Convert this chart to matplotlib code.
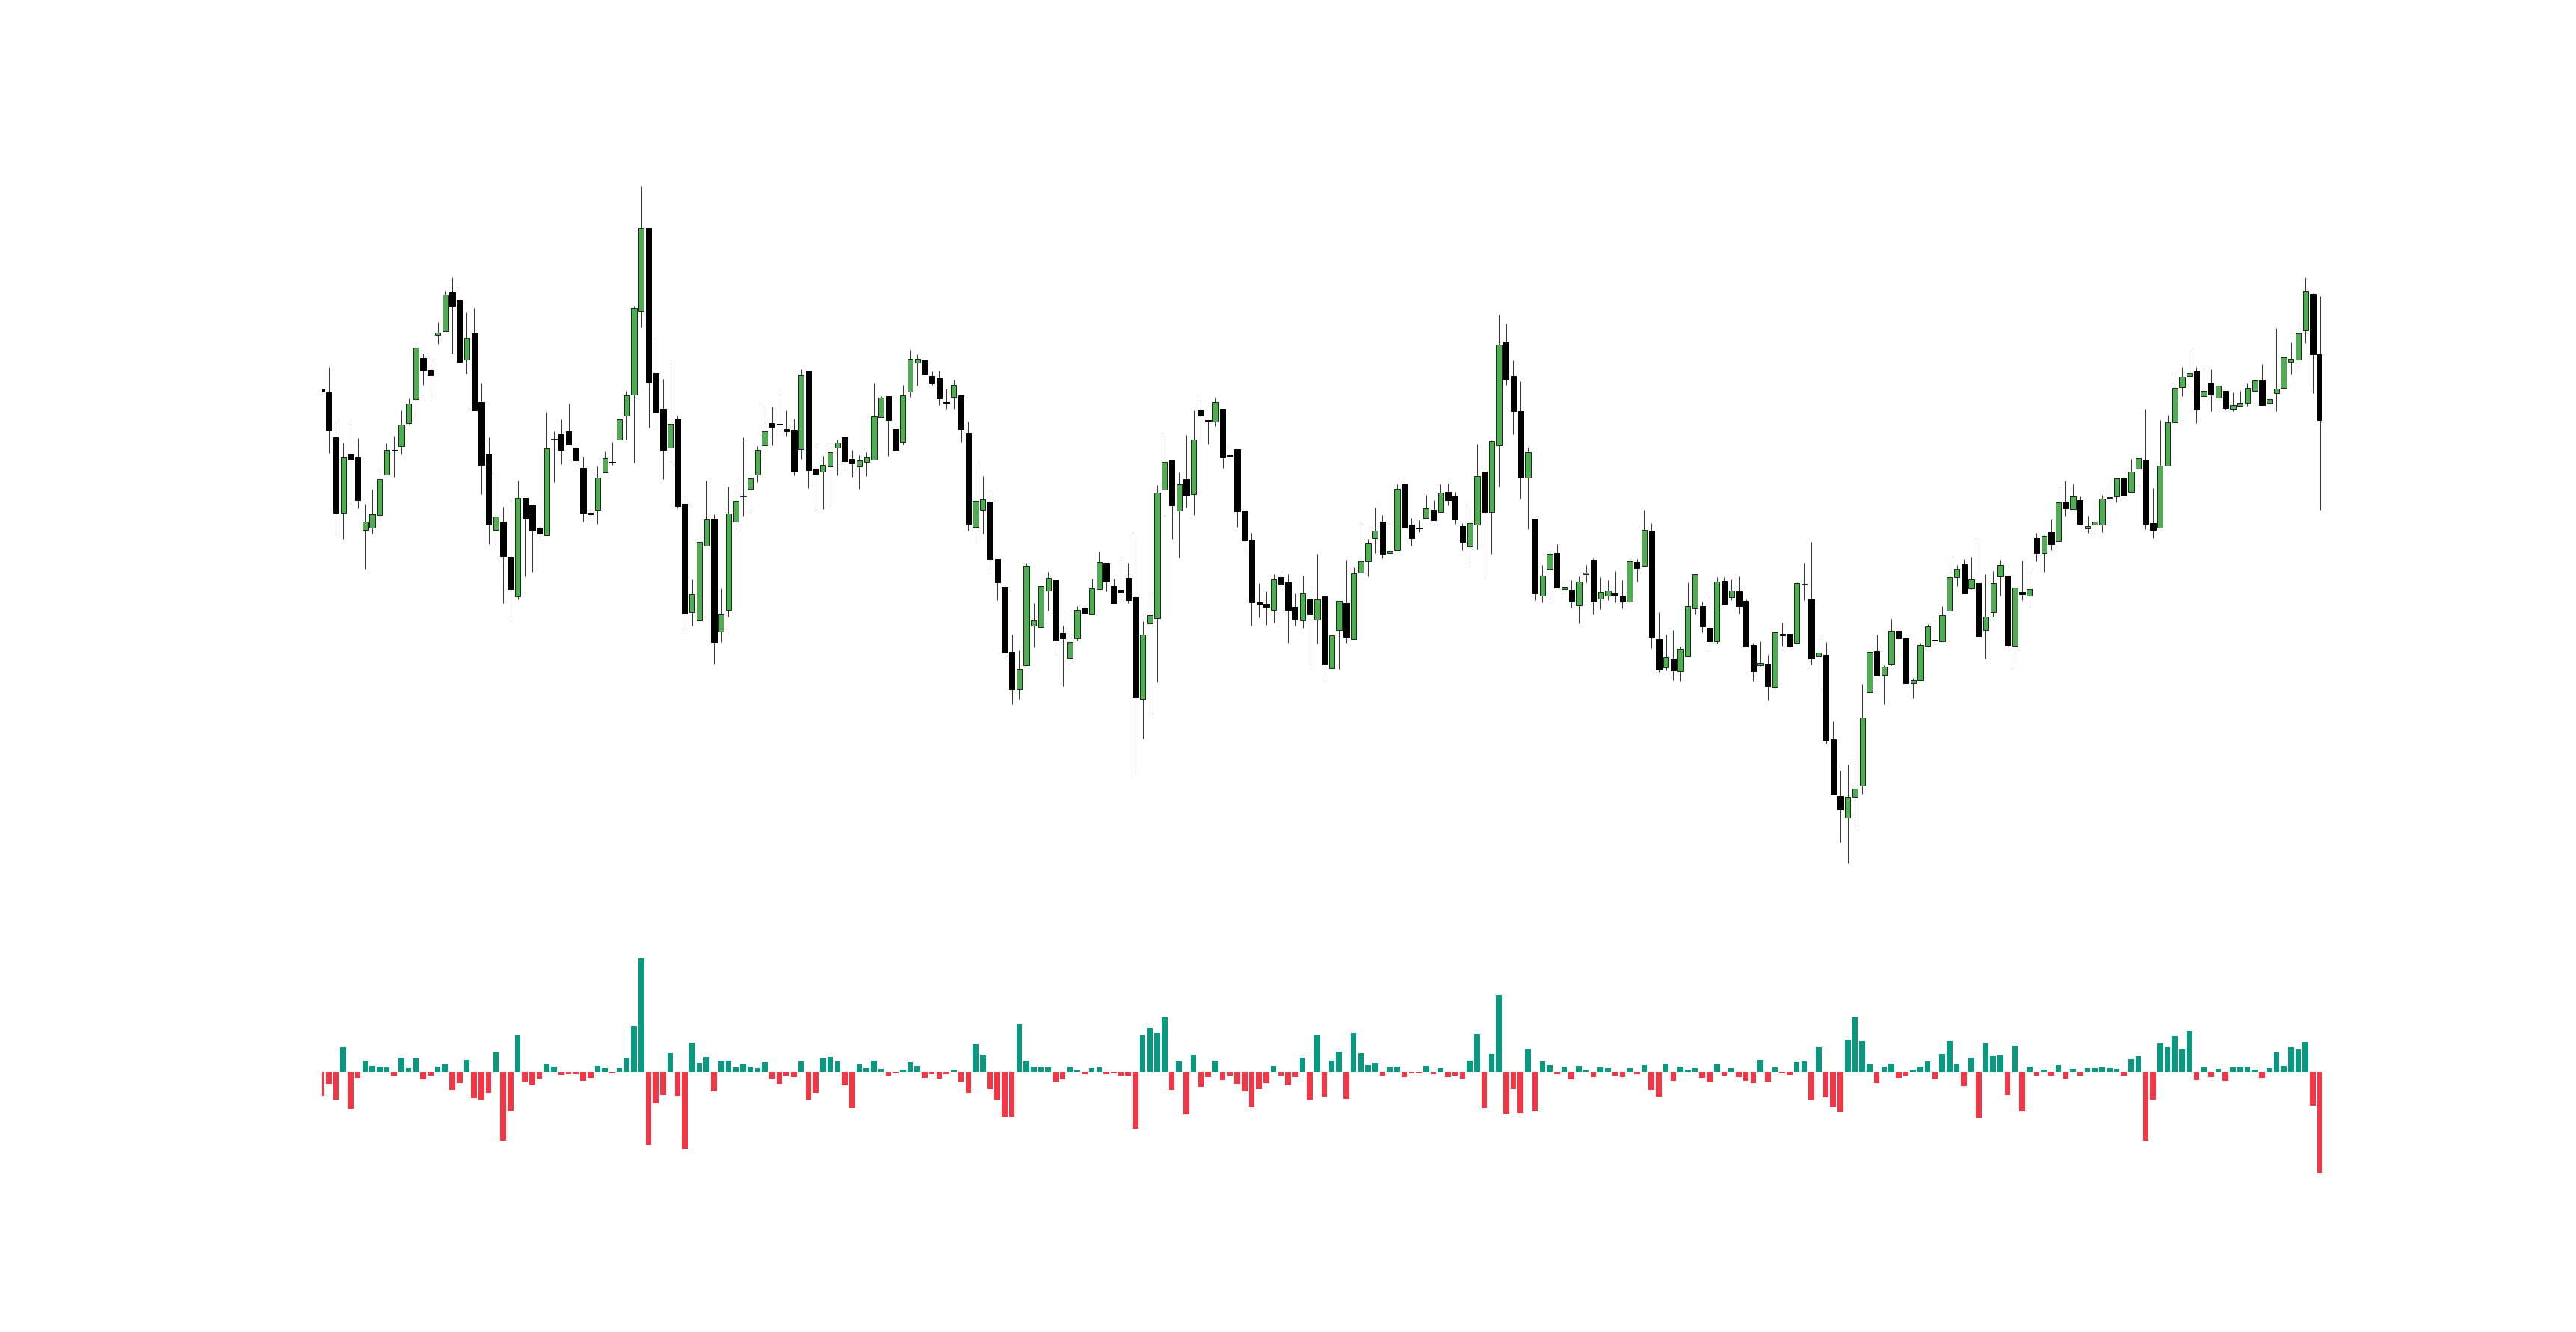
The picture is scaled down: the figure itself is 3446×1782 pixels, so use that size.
import matplotlib
matplotlib.use("Agg")
import matplotlib.pyplot as plt
import numpy as np

# OHLC prices (arbitrary units, no axis shown)
opens = [
    78.0, 77.5, 71.5, 61.4, 69.2, 68.8, 59.1, 59.4, 61.1, 66.5,
    69.8, 70.3, 73.4, 76.6, 82.1, 80.5, 85.2, 85.7, 90.9, 89.8,
    81.9, 85.4, 76.2, 69.2, 59.1, 60.2, 55.5, 50.2, 63.4, 62.4,
    59.4, 58.4, 71.2, 71.9, 72.3, 70.1, 67.4, 61.4, 61.8, 66.8,
    68.2, 71.2, 74.4, 77.2, 88.4, 99.5, 80.1, 75.3, 70.1, 74.0,
    62.6, 48.1, 47.0, 57.0, 60.6, 45.5, 48.4, 60.2, 63.6, 64.6,
    66.5, 70.4, 73.4, 73.3, 72.6, 72.5, 69.9, 80.4, 67.3, 66.9,
    67.6, 70.1, 71.5, 68.6, 67.6, 68.2, 68.5, 74.2, 77.0, 72.6,
    70.9, 77.6, 81.5, 81.8, 79.7, 79.4, 76.2, 76.9, 77.1, 72.1,
    59.5, 61.8, 62.9, 55.2, 51.5, 42.8, 37.8, 41.0, 46.3, 46.1,
    51.0, 52.4, 45.3, 42.0, 44.6, 48.7, 47.8, 51.2, 54.7, 51.6,
    51.1, 52.7, 50.1, 36.5, 46.6, 47.3, 64.5, 68.4, 61.7, 65.9,
    63.9, 75.2, 73.8, 73.6, 75.3, 69.1, 69.9, 61.7, 57.8, 49.4,
    49.2, 48.4, 52.8, 52.1, 48.8, 47.0, 49.8, 47.1, 50.2, 40.6,
    45.7, 49.3, 44.5, 53.4, 54.9, 58.0, 60.2, 56.0, 56.4, 65.2,
    59.8, 59.4, 60.7, 61.8, 61.5, 64.2, 63.6, 59.6, 56.9, 59.8,
    66.9, 61.5, 70.4, 84.3, 79.7, 75.0, 66.1, 60.6, 50.3, 53.9,
    56.0, 51.2, 51.1, 49.0, 53.2, 55.1, 49.9, 50.3, 50.7, 50.3,
    49.5, 54.8, 54.3, 59.0, 44.5, 40.7, 41.9, 40.2, 42.2, 48.6,
    48.9, 46.0, 44.2, 52.3, 50.1, 50.9, 49.6, 43.7, 41.0, 41.2,
    38.1, 45.2, 45.2, 44.0, 51.8, 49.9, 42.2, 42.4, 31.1, 23.5,
    20.6, 23.4, 24.9, 37.4, 42.9, 39.7, 41.2, 45.6, 44.6, 38.6,
    39.0, 43.6, 44.4, 44.2, 48.3, 52.8, 54.5, 51.3, 52.0, 45.7,
    48.1, 52.9, 53.0, 43.6, 50.8, 50.3, 58.0, 56.0, 58.8, 57.6,
    62.9, 61.9, 63.1, 59.3, 59.8, 59.8, 63.4, 63.6, 66.0, 64.2,
    67.3, 68.4, 60.0, 59.4, 67.7, 73.5, 78.2, 79.7, 80.4, 77.0,
    78.8, 76.8, 77.7, 75.3, 75.7, 76.1, 77.7, 79.1, 76.1, 77.4,
    78.1, 81.6, 81.9, 85.8, 90.7, 82.6,
]
highs = [
    78.0, 80.9, 73.9, 70.8, 73.3, 71.4, 62.6, 64.5, 67.6, 70.7,
    71.7, 75.1, 76.7, 84.0, 82.7, 81.5, 86.9, 91.1, 92.9, 91.2,
    88.2, 88.8, 78.7, 71.5, 66.3, 62.2, 63.5, 65.7, 63.4, 62.4,
    62.3, 74.9, 72.3, 73.9, 76.0, 70.5, 68.9, 67.0, 67.6, 69.6,
    70.9, 73.9, 77.7, 89.0, 105.1, 99.5, 84.9, 79.3, 81.5, 74.4,
    62.9, 52.5, 58.2, 65.7, 61.2, 51.3, 64.9, 65.4, 71.5, 66.6,
    70.3, 75.7, 75.6, 77.3, 75.1, 74.0, 80.6, 80.4, 70.4, 69.0,
    70.8, 71.2, 72.1, 69.8, 69.1, 69.5, 78.7, 77.0, 77.0, 72.6,
    78.5, 83.2, 82.6, 82.3, 80.3, 80.4, 78.0, 79.2, 77.1, 73.6,
    67.7, 66.3, 63.7, 55.2, 51.7, 45.1, 43.0, 54.7, 49.3, 51.6,
    53.5, 52.4, 46.3, 45.0, 48.9, 49.2, 52.6, 56.2, 54.7, 52.6,
    55.2, 54.7, 58.3, 46.9, 50.6, 65.1, 71.7, 68.4, 66.8, 71.8,
    75.1, 76.9, 73.8, 76.8, 75.3, 70.6, 69.9, 61.7, 58.7, 52.0,
    50.9, 53.2, 53.9, 53.2, 50.6, 53.0, 50.9, 55.9, 50.4, 45.0,
    49.6, 55.1, 54.1, 60.1, 57.9, 62.1, 61.1, 60.1, 65.2, 65.6,
    60.7, 60.4, 63.8, 63.1, 65.2, 65.3, 64.2, 60.0, 62.1, 70.6,
    66.9, 71.1, 87.9, 86.7, 81.8, 79.0, 70.1, 60.6, 54.4, 56.3,
    57.2, 52.2, 52.4, 52.9, 54.4, 55.3, 52.8, 52.4, 53.6, 52.4,
    55.2, 55.2, 61.8, 60.0, 48.1, 45.1, 45.7, 43.5, 52.1, 53.2,
    49.5, 50.1, 52.8, 52.8, 52.5, 52.9, 49.8, 44.0, 44.2, 42.4,
    45.4, 46.7, 45.2, 52.1, 54.7, 57.5, 44.5, 44.1, 33.5, 26.9,
    27.7, 28.6, 38.5, 43.1, 45.1, 41.0, 47.2, 45.9, 44.6, 39.3,
    44.0, 46.5, 47.1, 48.9, 55.1, 54.4, 55.2, 55.5, 58.0, 53.2,
    53.6, 55.1, 53.0, 51.4, 55.0, 54.0, 58.7, 58.4, 60.5, 64.9,
    65.7, 65.2, 63.6, 61.0, 62.6, 63.8, 65.0, 66.0, 66.4, 68.6,
    68.7, 75.3, 64.7, 73.8, 74.5, 80.2, 80.9, 83.5, 80.9, 81.1,
    80.6, 78.4, 77.7, 77.5, 77.7, 78.7, 79.1, 81.3, 76.9, 86.1,
    82.7, 84.2, 86.1, 92.9, 90.8, 90.4,
]
lows = [
    77.6, 69.4, 58.3, 57.9, 62.5, 62.0, 53.9, 58.6, 60.2, 66.5,
    66.2, 69.2, 73.3, 74.1, 78.5, 76.9, 84.0, 85.7, 82.7, 81.6,
    80.0, 75.1, 63.9, 57.2, 57.2, 49.3, 47.6, 49.8, 52.9, 53.5,
    57.4, 58.4, 65.5, 67.9, 70.5, 67.4, 60.2, 60.4, 59.9, 66.8,
    67.8, 71.2, 71.2, 68.1, 86.2, 72.8, 72.5, 65.9, 67.8, 62.0,
    45.9, 46.3, 47.0, 57.0, 41.2, 44.1, 47.5, 59.2, 61.0, 61.7,
    65.5, 69.0, 70.4, 72.2, 71.7, 66.4, 68.6, 64.7, 61.4, 61.9,
    62.2, 66.4, 67.1, 66.2, 64.6, 66.3, 68.5, 74.2, 69.0, 69.4,
    70.5, 76.9, 78.4, 79.9, 78.5, 75.8, 75.3, 75.3, 70.9, 59.0,
    57.9, 58.6, 53.9, 49.7, 42.0, 35.8, 36.5, 41.0, 43.4, 46.1,
    48.3, 42.3, 38.2, 41.2, 44.3, 46.6, 47.8, 51.2, 50.9, 49.3,
    49.7, 49.3, 26.4, 31.2, 34.2, 38.8, 60.6, 57.9, 55.4, 62.1,
    61.1, 71.1, 70.6, 73.0, 67.4, 68.7, 59.5, 56.3, 46.3, 47.4,
    46.4, 46.7, 51.6, 44.0, 46.3, 46.0, 41.2, 43.9, 39.6, 40.6,
    40.5, 44.0, 44.5, 53.4, 52.9, 56.0, 55.3, 56.0, 56.4, 59.4,
    57.0, 58.8, 60.7, 60.4, 61.5, 62.4, 59.9, 56.4, 54.7, 56.5,
    52.5, 55.9, 64.9, 78.5, 71.9, 63.3, 59.2, 49.7, 49.4, 49.7,
    51.4, 50.2, 48.7, 46.6, 52.1, 47.8, 48.5, 49.7, 49.4, 48.6,
    49.4, 52.2, 54.3, 43.3, 40.1, 40.3, 39.0, 38.9, 42.2, 47.8,
    45.4, 42.9, 43.9, 49.1, 49.7, 47.9, 43.5, 38.9, 40.9, 36.3,
    37.7, 43.6, 42.9, 44.0, 49.7, 41.1, 37.9, 30.5, 23.7, 17.3,
    14.5, 19.2, 23.8, 37.3, 39.6, 35.8, 41.0, 42.8, 38.6, 36.6,
    39.0, 43.5, 44.1, 44.2, 48.3, 51.6, 50.6, 51.2, 44.9, 41.9,
    47.5, 50.3, 43.6, 41.0, 49.7, 48.7, 54.9, 53.5, 56.4, 57.6,
    61.0, 61.9, 59.9, 58.7, 58.5, 58.8, 63.3, 62.8, 63.0, 64.2,
    64.9, 59.2, 58.0, 59.4, 67.7, 73.5, 77.0, 77.9, 73.4, 77.0,
    75.0, 75.3, 75.2, 75.0, 75.7, 75.7, 77.7, 75.8, 75.4, 75.0,
    77.7, 79.9, 80.6, 84.1, 77.4, 61.8,
]
closes = [
    77.6, 72.5, 61.4, 68.8, 68.6, 63.1, 60.2, 61.2, 65.9, 69.8,
    69.7, 73.2, 76.0, 83.5, 80.5, 79.8, 85.5, 90.6, 89.0, 81.6,
    84.8, 75.1, 67.8, 59.8, 60.9, 55.6, 51.2, 63.4, 60.6, 59.0,
    58.6, 70.0, 71.3, 69.8, 70.5, 68.4, 61.4, 61.2, 66.1, 68.7,
    68.1, 73.9, 77.1, 88.8, 99.5, 78.8, 74.9, 69.8, 73.3, 62.3,
    47.9, 50.5, 57.5, 60.5, 44.1, 47.8, 61.3, 63.0, 63.7, 66.0,
    69.8, 72.3, 72.9, 73.2, 72.3, 66.9, 79.8, 67.1, 66.6, 67.8,
    69.5, 70.8, 68.3, 68.0, 68.4, 68.8, 74.3, 76.8, 73.8, 69.8,
    77.1, 82.0, 82.0, 79.9, 78.7, 76.7, 76.1, 78.5, 72.6, 59.9,
    63.0, 63.2, 55.2, 52.1, 42.7, 37.8, 40.5, 54.3, 47.0, 51.6,
    52.7, 44.4, 44.6, 44.1, 48.4, 48.0, 51.3, 54.8, 52.2, 49.3,
    50.8, 49.7, 36.7, 45.1, 47.7, 64.1, 68.2, 62.4, 65.2, 63.7,
    71.2, 74.4, 73.7, 76.2, 68.8, 69.0, 61.6, 57.7, 49.4, 49.2,
    48.8, 52.5, 51.9, 48.4, 47.2, 50.6, 47.8, 49.8, 41.2, 45.0,
    49.6, 44.8, 53.3, 54.9, 57.3, 59.0, 55.9, 56.3, 64.6, 59.4,
    58.0, 59.3, 62.0, 60.4, 64.1, 63.1, 60.5, 57.5, 60.0, 66.3,
    61.5, 71.0, 83.9, 79.3, 75.0, 66.1, 69.5, 50.6, 53.0, 55.9,
    51.4, 51.5, 49.5, 52.2, 53.4, 49.5, 50.8, 51.0, 50.3, 49.5,
    54.9, 54.0, 59.1, 44.8, 40.4, 42.1, 40.3, 43.2, 48.9, 53.2,
    46.2, 44.2, 52.2, 49.2, 51.0, 48.9, 43.5, 40.2, 41.3, 38.2,
    45.4, 45.0, 43.5, 52.0, 51.9, 41.9, 42.7, 30.9, 23.7, 21.7,
    23.4, 24.5, 34.0, 42.8, 39.6, 40.8, 45.6, 44.6, 38.6, 39.0,
    43.7, 46.2, 44.3, 47.7, 52.8, 53.9, 50.6, 52.5, 44.9, 47.5,
    52.0, 54.4, 43.7, 51.4, 50.5, 51.2, 56.0, 58.3, 57.2, 62.8,
    62.0, 63.6, 59.9, 59.6, 60.2, 63.3, 63.5, 66.0, 63.7, 66.9,
    68.7, 59.9, 59.1, 67.7, 73.5, 78.1, 79.6, 80.1, 75.2, 77.7,
    77.2, 78.4, 75.4, 75.8, 76.1, 78.1, 79.1, 75.8, 76.6, 78.0,
    82.2, 82.0, 85.4, 91.1, 82.6, 73.8,
]

# signed bar values of the lower panel
deltas = [
    -31.7, -15.7, -37.3, 33.0, -49.0, -7.3, 15.0, 8.7, 7.7, 6.0,
    -5.7, 19.3, 5.0, 18.3, -9.3, -5.0, 7.7, 10.3, -23.7, -14.7,
    16.7, -34.7, -38.0, -27.3, 26.3, -91.3, -51.7, 50.0, -14.0, -16.3,
    -8.3, 10.3, 7.0, -4.0, -3.0, -2.3, -11.3, -7.3, 8.0, 5.0,
    -1.3, 5.0, 18.7, 61.7, 152.7, -97.7, -41.7, -31.0, 25.7, -32.0,
    -102.3, 39.3, 12.3, 20.3, -25.7, 15.7, 15.7, 6.7, 10.3, 7.0,
    5.0, 13.3, -8.3, -15.7, -5.0, -6.7, 14.0, -38.0, -28.0, 18.7,
    20.3, 14.0, -17.7, -48.0, 10.3, 5.0, 15.0, 4.0, -5.7, -1.3,
    2.3, 13.3, 8.7, -7.3, -2.3, -8.3, -3.0, 2.3, -14.0, -27.3,
    37.3, 23.0, -23.0, -38.0, -60.0, -60.0, 64.3, 15.7, 7.0, 6.0,
    6.0, -12.3, -9.3, 7.0, 2.3, -3.0, 5.0, 6.0, -3.0, -2.0,
    -5.7, -5.0, -75.7, 50.7, 59.0, 52.3, 73.3, -24.0, 14.0, -57.0,
    23.0, -20.0, -6.7, 15.0, -10.3, -5.0, -15.7, -25.7, -46.3, -23.0,
    -14.7, 8.7, -5.0, -17.7, -6.7, 19.3, -36.7, 50.0, -33.0, 15.7,
    27.7, -35.7, 52.7, 25.0, 9.3, 12.3, -5.0, 6.0, 7.0, -6.7,
    -2.0, -2.0, 8.0, -3.0, 5.0, -6.7, -5.0, -8.7, 15.0, 51.7,
    -47.3, 24.0, 103.3, -55.3, -23.0, -54.7, 30.3, -52.7, 14.0, 9.7,
    -3.0, 7.0, -9.3, 8.7, 2.3, -6.7, 6.0, 5.0, -5.7, -6.7,
    5.0, -3.0, 9.7, -24.0, -32.7, 11.3, -12.0, 7.0, 3.3, 5.0,
    -7.7, -14.0, 10.3, -5.7, 5.0, -6.7, -12.0, -14.7, 16.0, -14.0,
    6.0, -2.0, -4.0, 13.0, 14.7, -38.0, 33.0, -33.7, -46.3, -53.3,
    43.7, 74.3, 41.0, 10.3, -14.7, 7.7, 11.3, -7.3, -5.7, 2.3,
    7.7, 14.0, -9.3, 24.0, 41.0, 10.3, -18.3, 19.3, -61.3, 38.3,
    21.3, 22.0, -31.0, 35.3, -52.7, 7.0, -5.0, 3.3, -5.0, 9.3,
    -8.3, 4.0, -5.0, 5.0, 5.0, 7.0, 5.0, 4.0, -5.0, 17.7,
    21.3, -91.3, -36.3, 38.3, 33.0, 48.3, 30.3, 55.3, -10.3, 6.0,
    -6.7, 4.0, -12.0, 6.0, 7.0, 7.7, 3.3, -7.7, 5.0, 26.7,
    8.7, 33.0, 30.3, 40.3, -44.7, -134.3,
]

UP_BODY = "#4caf50"
DOWN_BODY = "#000000"
POS_BAR = "#089981"
NEG_BAR = "#f23645"

o = np.array(opens)
h = np.array(highs)
l = np.array(lows)
c = np.array(closes)
d = np.array(deltas)
x = np.arange(len(o))

W, H = 3446, 1782
fig = plt.figure(figsize=(W / 100, H / 100), dpi=100)
fig.patch.set_facecolor("white")

left = 431.3 / W
width = (3106.3 - 431.3) / W
xlim = (0.134, 275.27)

# price panel
ax = fig.add_axes([left, 1 - 1200 / H, width, 1000 / H])
up = c >= o
ax.vlines(x, l, h, color="#3a3a3a", linewidth=0.75, zorder=1)
body_lo = np.minimum(o, c)
body_h = np.maximum(np.abs(c - o), 0.12)
ax.bar(x[up], body_h[up], bottom=body_lo[up], width=0.75,
       color=UP_BODY, edgecolor="#1f1f1f", linewidth=0.7, zorder=2)
ax.bar(x[~up], body_h[~up], bottom=body_lo[~up], width=0.75,
       color=DOWN_BODY, edgecolor="#000000", linewidth=0.7, zorder=2)
ax.set_xlim(*xlim)
ax.set_ylim(10, 110)
ax.axis("off")

# lower bar panel
ax2 = fig.add_axes([left, 1 - 1600 / H, width, 330 / H])
ax2.bar(x, d, width=0.78, color=np.where(d >= 0, POS_BAR, NEG_BAR), linewidth=0)
ax2.set_xlim(*xlim)
ax2.set_ylim(-165.7, 164.3)
ax2.axis("off")

fig.savefig("out.png", dpi=100, facecolor="white")
